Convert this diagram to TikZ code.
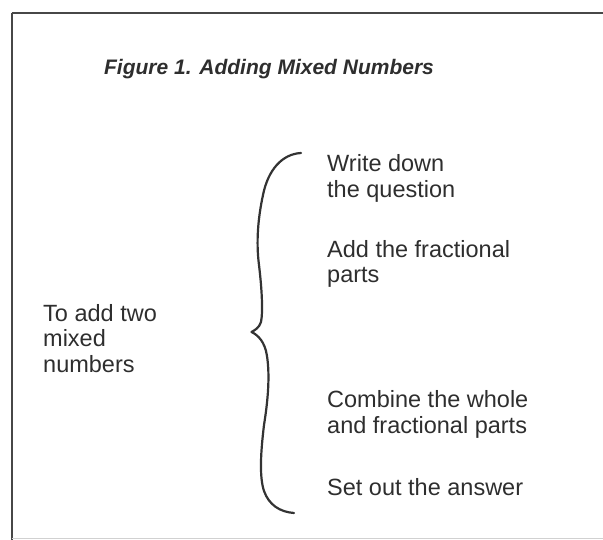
\documentclass[tikz,border=0pt]{standalone}
\usepackage{fontspec}
\setmainfont{Liberation Sans}
\begin{document}
\begin{tikzpicture}[x=1pt,y=-1pt,
  item/.style={anchor=north west,inner sep=0pt,align=left,text=black!82,
    font=\fontsize{23.5}{25.7}\selectfont},
  frameline/.style={draw=black!72,line width=1.4pt},
  bracepath/.style={draw=black!80,line width=2.2pt,line cap=round,line join=round}]
\useasboundingbox (0,0) rectangle (603,540);
% frame
\draw[frameline] (11.5,13) -- (603,13);
\draw[frameline,line width=2pt] (11.5,13) -- (11.5,540);
\draw[draw=black!18,line width=1pt] (11.5,538.5) -- (603,538.5);
% title
\node[anchor=base,inner sep=0pt,text=black!82,
  font=\fontsize{21}{24}\selectfont\bfseries\itshape] (title) at (269,75)
  {Figure 1. Adding Mixed Numbers};
% left label
\node[item] (whole) at (43,304) {To add two\\mixed\\numbers};
% items
\node[item] (s1) at (327,154.5) {Write down\\the question};
\node[item] (s2) at (327,240) {Add the fractional\\parts};
\node[item] (s3) at (327,390.5) {Combine the whole\\and fractional parts};
\node[item] (s4) at (327,478) {Set out the answer};
% brace
\coordinate (btop) at (301,153);
\coordinate (btip) at (251.5,332);
\coordinate (bbot) at (294,513);
\draw[bracepath] (btop)
  .. controls (282,154) and (268,170) .. (263,195)
  .. controls (258,218) and (256,242) .. (259,265)
  .. controls (262,290) and (263,312) .. (261,322)
  .. controls (259,328) and (255,330) .. (btip)
  .. controls (258,335) and (265,342) .. (267,356)
  .. controls (270,376) and (268,400) .. (264,425)
  .. controls (261,450) and (259,476) .. (264,491)
  .. controls (269,505) and (280,512) .. (bbot);
\end{tikzpicture}
\end{document}
